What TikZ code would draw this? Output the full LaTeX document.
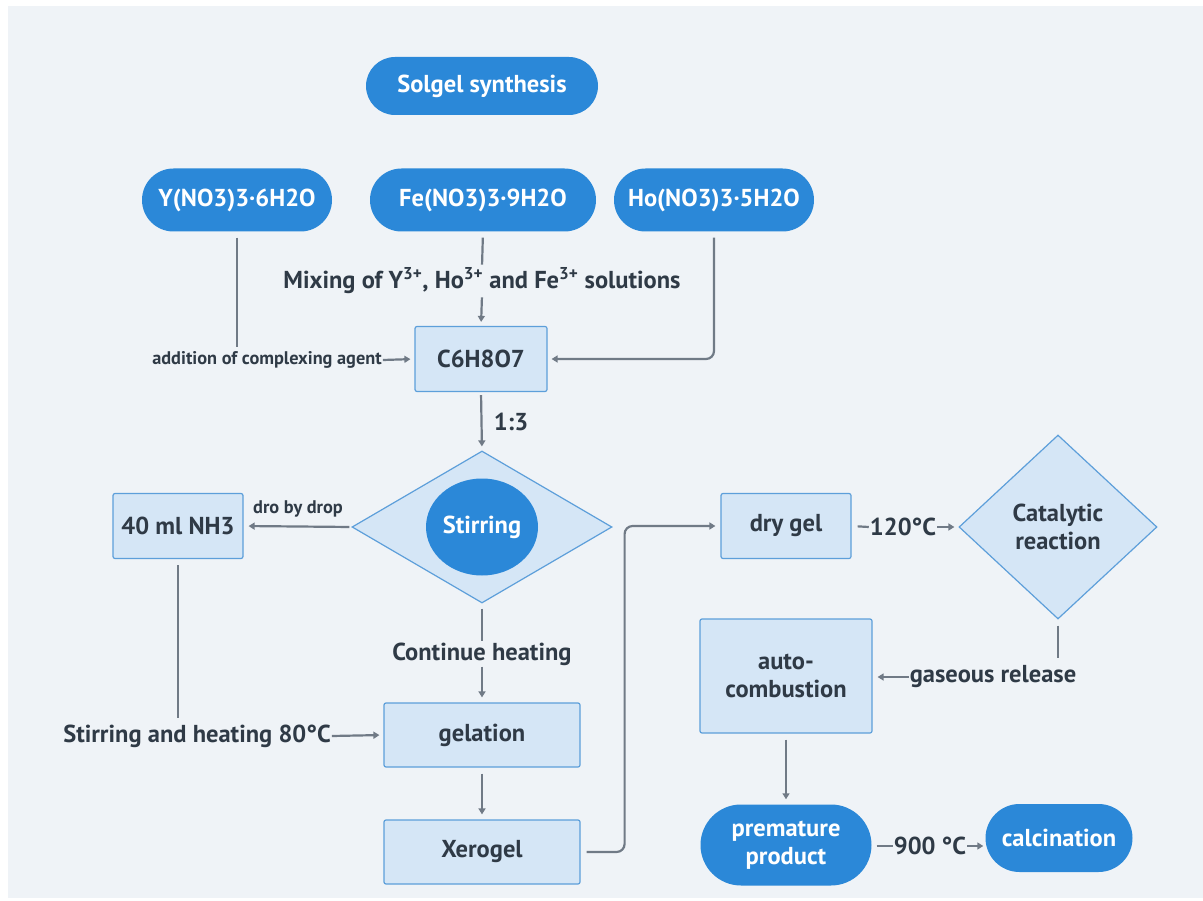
\documentclass[tikz,border=0pt]{standalone}
\usepackage{fontspec}
\setmainfont{PT Sans}
\usetikzlibrary{positioning,shapes.geometric,shapes.misc,arrows.meta}
\definecolor{pillblue}{HTML}{2B88D8}
\definecolor{boxfill}{HTML}{D5E6F6}
\definecolor{boxline}{HTML}{5D9FDA}
\definecolor{bgcol}{HTML}{EFF3F7}
\definecolor{arrowcol}{HTML}{707A86}
\definecolor{txtcol}{HTML}{2F3A46}
\newcommand\FlowFont{\fontsize{24.5}{28}\selectfont\bfseries}
\newcommand\NoteFont{\fontsize{18.3}{21}\selectfont\bfseries}

\begin{document}
\begin{tikzpicture}[x=1pt,y=-1pt,
  pill/.style={rounded rectangle,fill=pillblue,text=white,inner sep=0pt,align=center,font=\FlowFont},
  stepbox/.style={rectangle,draw=boxline,line width=1.2pt,fill=boxfill,rounded corners=2pt,inner sep=0pt,align=center,text=txtcol,font=\FlowFont},
  choice/.style={diamond,aspect=1,draw=boxline,line width=1.2pt,fill=boxfill,inner sep=0pt,align=center,text=txtcol,font=\FlowFont},
  note/.style={text=txtcol,font=\FlowFont,inner sep=1pt},
  smallnote/.style={text=txtcol,font=\NoteFont,inner sep=1pt},
  link/.style={draw=arrowcol,line width=2.2pt},
  flow/.style={link,-{Triangle[length=6pt,width=7pt]}},
]
\useasboundingbox (0,0) rectangle (1203,901);
\fill[white] (0,0) rectangle (1203,901);
\fill[bgcol] (8,6) rectangle (1203,898);
% boxes
\node[pill,minimum width=232,minimum height=58] (title) at (482,86) {Solgel synthesis};
\foreach \nm/\xx/\ww/\txt in {yn/237/190/{Y(NO3)3·6H2O},fe/483/226/{Fe(NO3)3·9H2O},ho/714/200/{Ho(NO3)3·5H2O}} {
  \node[pill,minimum width=\ww,minimum height=63] (\nm) at (\xx,200) {\txt};
}
\node[stepbox,minimum width=132,minimum height=65] (c6) at (481,359) {C6H8O7};
\node[choice,minimum width=260,minimum height=152] (stir) at (482,527) {};
\node[ellipse,fill=pillblue,text=white,minimum width=112,minimum height=97,inner sep=0pt,font=\FlowFont] (stirc) at (482,527) {Stirring};
\node[stepbox,minimum width=130,minimum height=65] (nh3) at (178,526) {40 ml NH3};
\node[stepbox,minimum width=196,minimum height=64] (gel) at (482,735) {gelation};
\node[stepbox,minimum width=196,minimum height=64] (xero) at (482,852) {Xerogel};
\node[stepbox,minimum width=130,minimum height=65] (dry) at (786,526) {dry gel};
\node[choice,minimum width=198,minimum height=184] (cat) at (1058,527) {Catalytic\\reaction};
\node[stepbox,minimum width=172,minimum height=114] (auto) at (786,676) {auto-\\combustion};
\node[pill,minimum width=171,minimum height=81] (prem) at (786,845) {premature\\product};
\node[pill,minimum width=147,minimum height=68] (calc) at (1059,838) {calcination};
% labels
\node[note] (mix) at (482,281) {Mixing of Y\textsuperscript{3+}, Ho\textsuperscript{3+} and Fe\textsuperscript{3+} solutions};
\node[smallnote] (cplx) at (267,360) {addition of complexing agent};
\node[note] (ratio) at (511,422) {1:3};
\node[smallnote] (drop) at (298,509) {dro by drop};
\node[note] (heat) at (482,654) {Continue heating};
\node[note] (h80) at (197,736) {Stirring and heating 80°C};
\node[note] (t120) at (903,527) {120°C};
\node[note] (gas) at (993,677) {gaseous release};
\node[note] (t900) at (930,846) {900 °C};
\coordinate (yfoot) at (237,347);
\coordinate (nh3foot) at (178,718);
\coordinate (gasfoot) at (1058,658);
% connectors
\draw[link,shorten <=6pt] (yn.south) -- (yfoot);
\draw[flow,shorten >=4pt] (cplx.east) -- (c6.west);
\draw[link,shorten <=6pt,shorten >=2pt] (fe.south) -- (mix.north);
\draw[flow,shorten <=2pt,shorten >=4pt] (mix.south) -- (c6.north);
\draw[flow,rounded corners=8pt,shorten <=6pt,shorten >=4pt] (ho.south) |- (c6.east);
\draw[flow,shorten <=3pt,shorten >=4pt] (c6.south) -- (stir.north);
\draw[flow,shorten <=2pt,shorten >=5pt] (stir.west) -- (nh3.east);
\draw[link,shorten <=6pt] (nh3.south) -- (nh3foot);
\draw[flow,shorten >=4pt] (h80.east) -- (gel.west);
\draw[link,shorten <=5pt] (stir.south) -- (heat.north);
\draw[flow,shorten >=5pt] (heat.south) -- (gel.north);
\draw[flow,shorten <=6pt,shorten >=5pt] (gel.south) -- (xero.north);
\draw[flow,rounded corners=8pt,shorten <=6pt,shorten >=5pt] (xero.east) -- ++(44,0) |- (dry.west);
\draw[link,shorten <=6pt] (dry.east) -- (t120.west);
\draw[flow,shorten >=4pt] (t120.east) -- (cat.west);
\draw[link,shorten <=6pt] (cat.south) -- (gasfoot);
\draw[flow,shorten >=5pt] (gas.west) -- (auto.east |- gas);
\draw[flow,shorten <=6pt,shorten >=5pt] (auto.south) -- (prem.north);
\draw[link,shorten <=5pt] (prem.east |- t900) -- (t900.west);
\draw[flow,shorten >=2pt] (t900.east) -- (calc.west |- t900);
\end{tikzpicture}
\end{document}
